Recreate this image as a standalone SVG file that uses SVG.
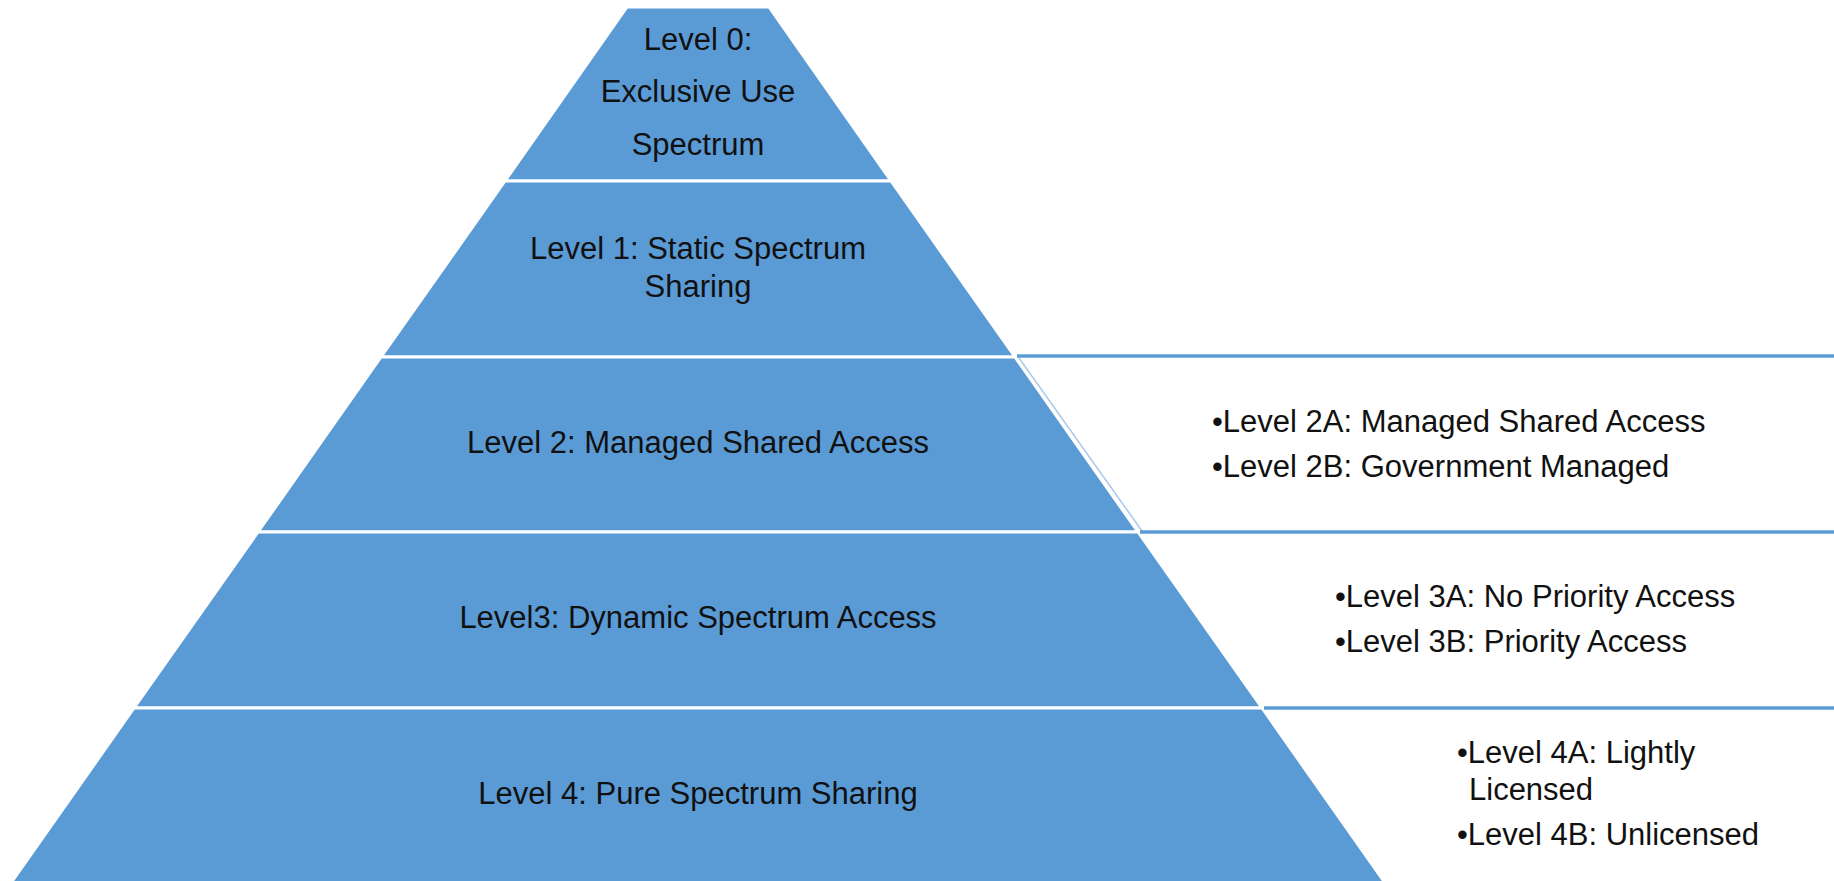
<svg xmlns="http://www.w3.org/2000/svg" width="1834" height="881" viewBox="0 0 1834 881">
<style>
.band{fill:#5b9bd5;stroke:#ffffff;stroke-width:3;stroke-linejoin:miter}
.t{font-family:"Liberation Sans",Arial,sans-serif;font-size:31px;fill:#111111}
.c{text-anchor:middle}
.rule{stroke:#5b9bd5;stroke-width:3.5;fill:none}
.edge{stroke:#a9c9ea;stroke-width:1.5;fill:none}
</style>
<rect x="0" y="0" width="1834" height="881" fill="#ffffff"/>
<g id="level0">
<polygon class="band" points="627,7 769,7 891,181 505,181"/>
<text class="t c" x="698" y="50">Level 0:</text>
<text class="t c" x="698" y="102">Exclusive Use</text>
<text class="t c" x="698" y="155">Spectrum</text>
</g>
<g id="level1">
<polygon class="band" points="505,181 891,181 1015,357 381,357"/>
<text class="t c" x="698" y="259">Level 1: Static Spectrum</text>
<text class="t c" x="698" y="297">Sharing</text>
</g>
<g id="level2">
<polygon class="band" points="381,357 1015,357 1138,532 258,532"/>
<text class="t c" x="698" y="453">Level 2: Managed Shared Access</text>
</g>
<g id="level3">
<polygon class="band" points="258,532 1138,532 1262,708 134,708"/>
<text class="t c" x="698" y="628">Level3: Dynamic Spectrum Access</text>
</g>
<g id="level4">
<polygon class="band" points="134,708 1262,708 1390,890 6,890"/>
<text class="t c" x="698" y="804">Level 4: Pure Spectrum Sharing</text>
</g>
<g id="level2-details">
<line class="rule" x1="1017" y1="356" x2="1834" y2="356"/>
<line class="edge" x1="1019" y1="358" x2="1142" y2="531"/>
<text class="t" x="1212" y="432">•Level 2A: Managed Shared Access</text>
<text class="t" x="1212" y="477">•Level 2B: Government Managed</text>
</g>
<g id="level3-details">
<line class="rule" x1="1140" y1="532" x2="1834" y2="532"/>
<text class="t" x="1335" y="607">•Level 3A: No Priority Access</text>
<text class="t" x="1335" y="652">•Level 3B: Priority Access</text>
</g>
<g id="level4-details">
<line class="rule" x1="1264" y1="708" x2="1834" y2="708"/>
<text class="t" x="1457" y="763">•Level 4A: Lightly</text>
<text class="t" x="1469" y="800">Licensed</text>
<text class="t" x="1457" y="845">•Level 4B: Unlicensed</text>
</g>
</svg>
